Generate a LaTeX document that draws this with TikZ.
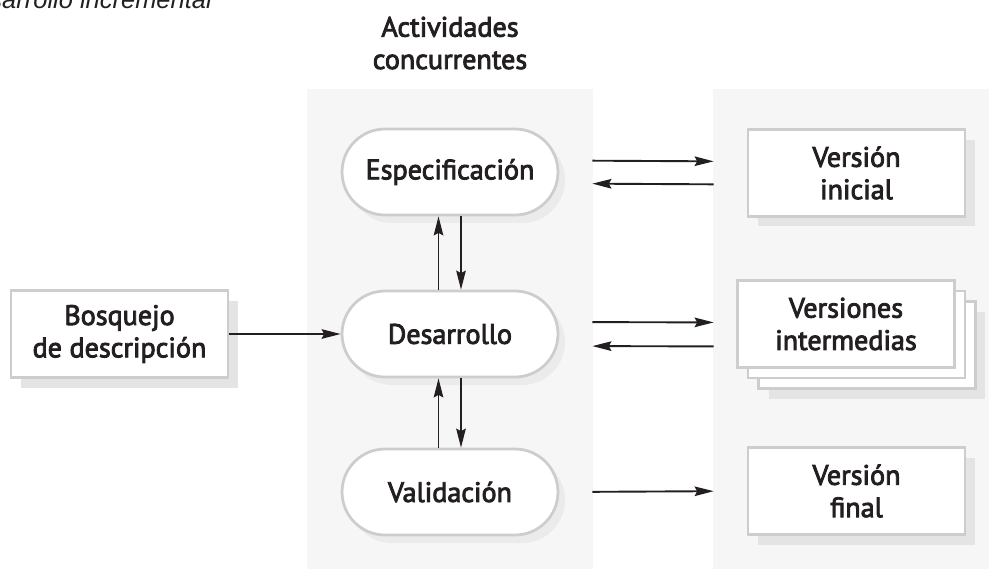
\documentclass[tikz,border=0pt]{standalone}
\usepackage{fontspec}
\setmainfont{PT Sans}[FakeBold=3]
\newfontfamily\capfont{Liberation Sans}
\usetikzlibrary{
    arrows.meta,
    shadows,
    positioning
}
\definecolor{panelgray}{HTML}{F6F6F6}
\definecolor{edgegray}{HTML}{CDCDCD}
\definecolor{shadegray}{HTML}{E4E4E4}
\definecolor{inkgray}{HTML}{231F20}

\tikzset{
    activity/.style={draw=edgegray, line width=0.055cm, fill=white,
        rounded corners=0.86cm, minimum width=4.32cm, minimum height=1.72cm,
        drop shadow={shadow xshift=0.14cm, shadow yshift=-0.16cm, fill=shadegray!75, opacity=1}},
    version/.style={draw=edgegray, line width=0.055cm, fill=white,
        minimum width=4.34cm, minimum height=1.74cm, align=center},
    shaded/.style={drop shadow={shadow xshift=0.2cm, shadow yshift=-0.2cm, fill=shadegray, opacity=1}},
    flow/.style={-{Stealth[length=0.38cm, width=0.19cm, inset=0.05cm]}, line width=0.038cm, inkgray}
}

\begin{document}
\begin{tikzpicture}[x=0.02cm, y=-0.02cm, text=inkgray, font=\fontsize{16}{18.4}\selectfont]
                        \useasboundingbox (0,0) rectangle (989,569);
                        \clip (0,0) rectangle (989,569);

                        \node[font=\capfont\itshape\fontsize{14.5}{17}\selectfont, anchor=base east] (caption) at (218,8) {Desarrollo incremental};
                        \node[align=center] (title) at (450,43) {Actividades\\concurrentes};

                        % bandas de fondo
                        \fill[panelgray] (307,89) rectangle (593,569);
                        \fill[panelgray] (713,89) rectangle (989,569);

                        \node[activity] (spec) at (450,172) {Especificación};
                        \node[activity] (dev) at (450,334) {Desarrollo};
                        \node[activity] (val) at (450,492) {Validación};

                        \node[version, shaded] (sketch) at (119.5,334) {Bosquejo\\de descripción};
                        \node[version, shaded] (vini) at (856.5,173) {Versión\\inicial};
                        \node[version, shaded] (vback) at (867,345) {};
                        \node[version] (vmid) at (856.5,334.5) {};
                        \node[version] (vfront) at (846,324) {Versiones\\intermedias};
                        \node[version, shaded] (vfin) at (856.5,491) {Versión\\final};

                        \draw
                        (sketch) edge[flow] (dev)
                        ([xshift=-0.23cm]dev.north) edge[flow] ([xshift=-0.23cm]spec.south)
                        ([xshift=0.22cm]spec.south) edge[flow] ([xshift=0.22cm]dev.north)
                        ([xshift=-0.23cm]val.north) edge[flow] ([xshift=-0.23cm]dev.south)
                        ([xshift=0.22cm]dev.south) edge[flow] ([xshift=0.22cm]val.north)
                        ([yshift=0.23cm]spec.east) edge[flow, shorten <=0.66cm, shorten >=0.66cm] ([yshift=0.23cm]vini.west)
                        ([yshift=-0.23cm]vini.west) edge[flow, shorten <=0.66cm, shorten >=0.66cm] ([yshift=-0.23cm]spec.east)
                        ([yshift=0.24cm]dev.east) edge[flow, shorten <=0.66cm, shorten >=0.66cm] ([yshift=0.24cm]vmid.west)
                        ([yshift=-0.24cm]vmid.west) edge[flow, shorten <=0.66cm, shorten >=0.66cm] ([yshift=-0.24cm]dev.east)
                        (val.east) edge[flow, shorten <=0.66cm, shorten >=0.66cm] (vfin.west);
                    \end{tikzpicture}
\end{document}
